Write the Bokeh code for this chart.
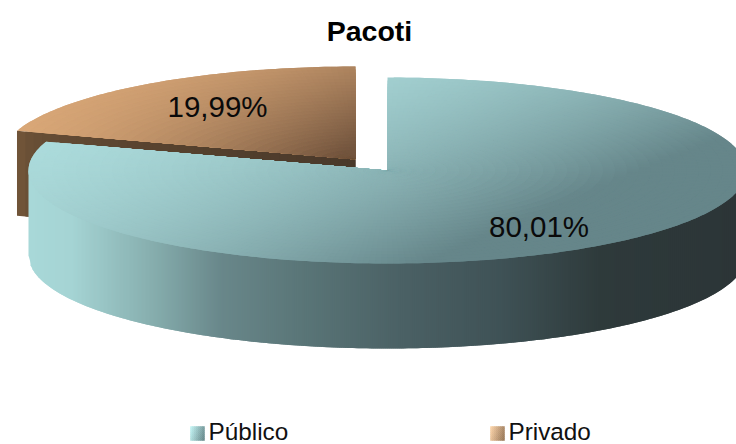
import numpy as np
from bokeh.plotting import figure
from bokeh.models import Range1d, ColumnDataSource
from bokeh.core.properties import value
from bokeh.embed import file_html
from bokeh.resources import INLINE

title = "Pacoti"
categories = ["Público", "Privado"]
shares = [80.01, 19.99]
labels = ["80,01%", "19,99%"]

W, H = 736, 444
RX, RY, DEPTH = 359, 93, 85
PUB_C = (387, 170)
PRI_C = (355, 159)
PRI_RX = 356


def hexes(rgb):
    rgb = np.clip(np.round(rgb), 0, 255).astype(int)
    return ["#%02x%02x%02x" % tuple(c) for c in rgb]


def lerp(a, b, t):
    a, b = np.array(a, float), np.array(b, float)
    t = np.clip(t, 0, 1)[:, None]
    return a + (b - a) * t


def pub_top_color(x, y):
    u = np.clip((x - 40) / 700, 0, 1)
    v = np.clip((y - 77) / 186, 0, 1)
    return hexes(lerp((174, 222, 222), (102, 134, 138), 0.7 * u**2 + 1.0 * u * v + 0.25 * v**2))


def pri_top_color(x, y):
    u = np.clip((x - 16) / 340, 0, 1)
    v = np.clip((y - 67) / 92, 0, 1)
    return hexes(lerp((218, 168, 120), (116, 86, 63), 0.45 * u**2 + 0.65 * u * v))


def pub_side_color(x):
    xp = [28, 70, 150, 220, 300, 400, 500, 600, 736]
    rs = [168, 165, 135, 105, 90, 75, 63, 46, 44]
    gs = [216, 212, 175, 135, 118, 97, 82, 58, 53]
    bs = [216, 212, 175, 138, 120, 101, 86, 59, 55]
    return hexes(np.c_[np.interp(x, xp, rs), np.interp(x, xp, gs), np.interp(x, xp, bs)])


def face_cells(center, rx, ry, a0, a1, color_fn, da=1.0, rings=30):
    """Overlapping fan cells of a pie face, painted outer ring first, so that no
    seams show. Angles are clockwise from 12 o'clock, in degrees."""
    n = max(2, int(round((a1 - a0) / da)))
    ang = np.radians(np.linspace(a0, a1, n + 1))
    rad = np.linspace(0, 1, rings + 1)
    xs, ys, cx, cy = [], [], [], []
    for j in range(rings - 1, -1, -1):
        r0, r1 = rad[j], rad[j + 1]
        for i in range(n):
            a = ang[i:i + 3]
            px = center[0] + rx * r1 * np.sin(a)
            py = center[1] - ry * r1 * np.cos(a)
            xs.append([center[0]] + px.tolist())
            ys.append([center[1]] + py.tolist())
            m = (ang[i] + ang[i + 1]) / 2
            rm = (r0 + r1) / 2
            cx.append(center[0] + rx * rm * np.sin(m))
            cy.append(center[1] - ry * rm * np.cos(m))
    return xs, ys, color_fn(np.array(cx), np.array(cy))


def draw_cells(p, xs, ys, colors, line_width=0):
    src = ColumnDataSource(dict(xs=xs, ys=ys, c=colors))
    if line_width:
        p.patches("xs", "ys", source=src, fill_color="c", line_color="c", line_width=line_width)
    else:
        p.patches("xs", "ys", source=src, fill_color="c", line_color=None)


p = figure(width=W, height=H, x_range=Range1d(0, W), y_range=Range1d(H, 0),
           output_backend="svg", toolbar_location=None, min_border=0,
           styles={"position": "absolute", "left": "0px", "top": "0px"})
p.axis.visible = False
p.grid.visible = False
p.outline_line_color = None
p.background_fill_color = "white"

# clockwise sweep from 12 o'clock, derived from the shares
total = sum(shares)
pub_end = 360 * shares[0] / total

# Privado: cut-plane side, then top face
end = np.radians(pub_end)
tip_x = PRI_C[0] + PRI_RX * np.sin(end)
tip_y = PRI_C[1] - RY * np.cos(end)
bx = np.linspace(tip_x, PRI_C[0], 41)
by = np.linspace(tip_y, PRI_C[1], 41)
band = hexes(lerp((112, 84, 56), (74, 57, 42), np.linspace(0, 1, 40) ** 0.5))
last = 40
draw_cells(p,
           [[bx[i], bx[min(i + 2, last)], bx[min(i + 2, last)], bx[i]] for i in range(40)],
           [[by[i], by[min(i + 2, last)], by[min(i + 2, last)] + DEPTH, by[i] + DEPTH] for i in range(40)],
           band)
draw_cells(p, *face_cells(PRI_C, PRI_RX, RY, pub_end, 360, pri_top_color))

# Público: curved side in 2px columns, then top face
sx = np.arange(PUB_C[0] - RX, PUB_C[0] + RX + 1, 2.0)
sx[-1] = PUB_C[0] + RX
sy = PUB_C[1] + RY * np.sqrt(np.clip(1 - ((sx - PUB_C[0]) / RX) ** 2, 0, 1))
m = len(sx) - 1
draw_cells(p,
           [[sx[i], sx[min(i + 2, m)], sx[min(i + 2, m)], sx[i]] for i in range(m)],
           [[PUB_C[1], PUB_C[1], sy[min(i + 2, m)] + DEPTH, sy[i] + DEPTH] for i in range(m)],
           pub_side_color((sx[:-1] + sx[1:]) / 2))
draw_cells(p, *face_cells(PUB_C, RX, RY, 0, pub_end, pub_top_color))

# Texts
FONT = value("Liberation Sans")
p.text([369], [30], text=[title], text_font=FONT, text_font_size="28.5px", text_font_style="bold",
       text_align="center", text_baseline="middle", text_color="black")
p.text([538.5, 217], [226, 106], text=labels, text_font=FONT, text_font_size="29.5px",
       text_align="center", text_baseline="middle", text_color="#0a0a0a")

# Legend
leg_x = [190, 490]
leg_text_x = [208, 508]
leg_y = 432
leg_fn = [
    lambda u, v: hexes(lerp((190, 240, 240), (100, 134, 136), u * 0.75 + v * 0.2)),
    lambda u, v: hexes(lerp((248, 208, 165), (150, 116, 84), u * 0.75 + v * 0.2)),
]
for x0, fn in zip(leg_x, leg_fn):
    n = 7
    xs, ys, us, vs = [], [], [], []
    for i in range(n):
        for j in range(n):
            xs.append([x0 + 2 * i, x0 + 2 * i + 2, x0 + 2 * i + 2, x0 + 2 * i])
            ys.append([leg_y - 6 + 2 * j, leg_y - 6 + 2 * j, leg_y - 4 + 2 * j, leg_y - 4 + 2 * j])
            us.append(i / (n - 1))
            vs.append(j / (n - 1))
    draw_cells(p, xs, ys, fn(np.array(us), np.array(vs)), line_width=0.5)
p.text(leg_text_x, [leg_y - 1, leg_y - 1], text=categories, text_font=FONT, text_font_size="24.3px",
       text_align="left", text_baseline="middle", text_color="#111111")

open("out.html", "w").write(file_html(p, INLINE))
